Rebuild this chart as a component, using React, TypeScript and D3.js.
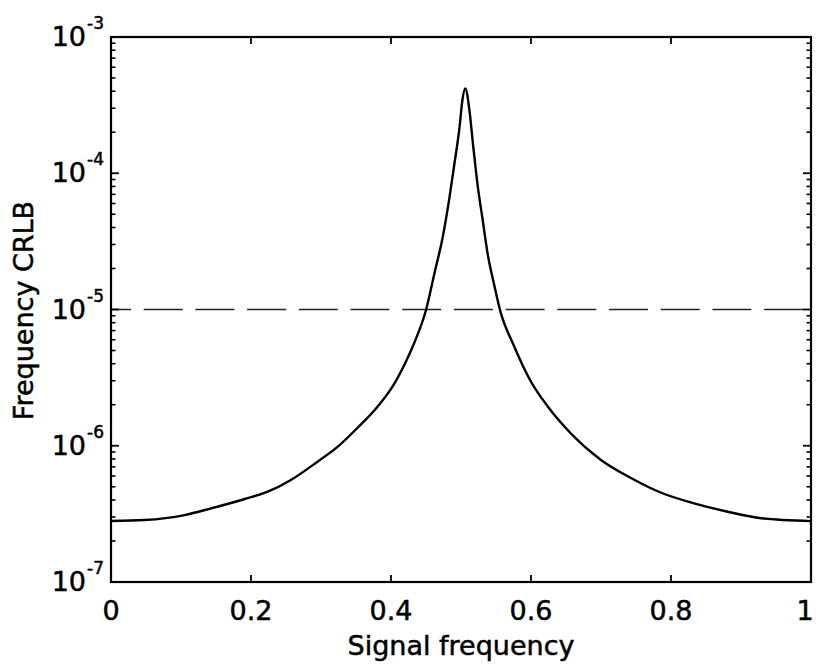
import React from "react";
import * as d3 from "d3";

const freq = [0, 0.048, 0.105, 0.143, 0.19, 0.224, 0.257, 0.295, 0.324, 0.352, 0.381, 0.405, 0.419, 0.433, 0.45, 0.462, 0.474, 0.483, 0.49, 0.498, 0.502, 0.506, 0.512, 0.517, 0.524, 0.531, 0.538, 0.548, 0.557, 0.574, 0.6, 0.624, 0.657, 0.7, 0.748, 0.786, 0.833, 0.881, 0.929, 1.0];
const crlb = [2.8e-7, 2.85e-7, 3.1e-7, 3.47e-7, 4.05e-7, 4.6e-7, 5.61e-7, 7.64e-7, 9.85e-7, 1.35e-6, 1.94e-6, 2.87e-6, 3.92e-6, 5.65e-6, 9.91e-6, 1.84e-5, 3.42e-5, 6.37e-5, 1.12e-4, 2.2e-4, 3.45e-4, 4.2e-4, 2.91e-4, 1.66e-4, 7.97e-5, 4.54e-5, 2.58e-5, 1.47e-5, 9.38e-6, 5.65e-6, 2.95e-6, 1.94e-6, 1.23e-6, 7.86e-7, 5.61e-7, 4.52e-7, 3.78e-7, 3.28e-7, 2.94e-7, 2.8e-7];
const threshold = 1e-5;
const xTicks = [0, 0.2, 0.4, 0.6, 0.8, 1];
const xTickLabels = ["0", "0.2", "0.4", "0.6", "0.8", "1"];
const yExponents = [-7, -6, -5, -4, -3];

const W = 817;
const H = 667;
const left = 111, right = 811, top = 37, bottom = 582;
const FONT = "'DejaVu Sans', sans-serif";
const textStyle = { fontFamily: FONT, fill: "#000", stroke: "#000", strokeWidth: 0.5 };

export default function App() {
  const x = d3.scaleLinear().domain([0, 1]).range([left, right]);
  const y = d3.scaleLog().domain([1e-7, 1e-3]).range([bottom, top]);
  const line = d3
    .line<number>()
    .x((_, i) => x(freq[i]))
    .y((d) => y(d))
    .curve(d3.curveMonotoneX);

  const minor: number[] = [];
  for (let e = -7; e < -3; e++) {
    for (let k = 2; k <= 9; k++) minor.push(k * Math.pow(10, e));
  }

  const dashStart = x(0) - 19; // phase of dashes
  return (
    <svg width={W} height={H} style={{ position: "absolute", left: 0, top: 0, background: "#fff" }}>
      <rect x={0} y={0} width={W} height={H} fill="#fff" />
      {/* threshold dashed line */}
      <line
        x1={x(0)}
        x2={x(1)}
        y1={y(threshold)}
        y2={y(threshold)}
        stroke="#222"
        strokeWidth={1.7}
        strokeDasharray="39 12.7"
        strokeDashoffset={x(0) - dashStart}
      />
      {/* curve */}
      <path d={line(crlb) || ""} fill="none" stroke="#000" strokeWidth={2.4} strokeLinejoin="round" />
      {/* y ticks */}
      {yExponents.map((e) => {
        const yy = y(Math.pow(10, e));
        return (
          <g key={"y" + e}>
            <line x1={left} x2={left + 8} y1={yy} y2={yy} stroke="#000" strokeWidth={1.8} />
            <line x1={right} x2={right - 8} y1={yy} y2={yy} stroke="#000" strokeWidth={1.8} />
            <text x={86} y={yy + 9} fontSize={27} textAnchor="end" style={textStyle}>
              10
            </text>
            <text x={87} y={yy - 8} fontSize={17} textAnchor="start" style={textStyle}>
              {String(e)}
            </text>
          </g>
        );
      })}
      {minor.map((v, i) => {
        const yy = y(v);
        return (
          <g key={"m" + i}>
            <line x1={left} x2={left + 4.5} y1={yy} y2={yy} stroke="#000" strokeWidth={1.6} />
            <line x1={right} x2={right - 4.5} y1={yy} y2={yy} stroke="#000" strokeWidth={1.6} />
          </g>
        );
      })}
      {/* x ticks */}
      {xTicks.map((t, i) => {
        const xx = x(t);
        return (
          <g key={"x" + i}>
            <line x1={xx} x2={xx} y1={bottom} y2={bottom - 7} stroke="#000" strokeWidth={1.8} />
            <line x1={xx} x2={xx} y1={top} y2={top + 7} stroke="#000" strokeWidth={1.8} />
            <text x={Math.min(xx, 805)} y={619.5} fontSize={27} textAnchor="middle" style={textStyle}>
              {xTickLabels[i]}
            </text>
          </g>
        );
      })}
      {/* box */}
      <rect x={left} y={top} width={right - left} height={bottom - top} fill="none" stroke="#000" strokeWidth={2.2} />
      {/* labels */}
      <text x={461} y={655} fontSize={27} textAnchor="middle" style={textStyle}>
        Signal frequency
      </text>
      <text transform={`translate(33,${310.5}) rotate(-90)`} fontSize={27} textAnchor="middle" style={textStyle}>
        Frequency CRLB
      </text>
    </svg>
  );
}
